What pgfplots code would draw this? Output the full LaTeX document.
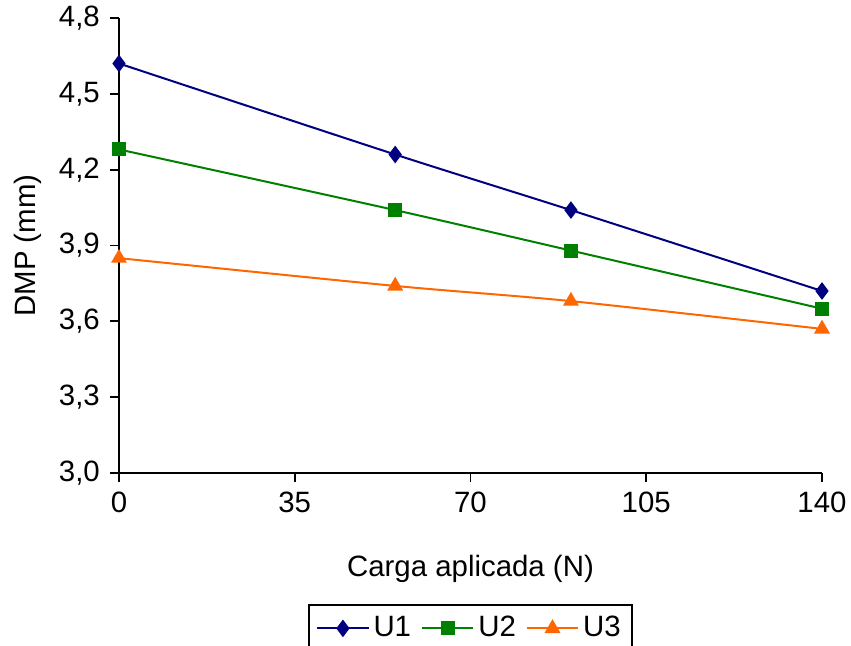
\documentclass[border=0pt]{standalone}
\usepackage{pgfplots}
\pgfplotsset{compat=1.18}
\usepackage{fontspec}
\setmainfont{Liberation Sans}

\definecolor{cU1}{RGB}{0,0,128}
\definecolor{cU2}{RGB}{0,128,0}
\definecolor{cU3}{RGB}{255,102,0}

\pgfplotstableread{
x   y
0   4.62
55  4.26
90  4.04
140 3.72
}\dataUone
\pgfplotstableread{
x   y
0   4.28
55  4.04
90  3.88
140 3.65
}\dataUtwo
\pgfplotstableread{
x   y
0   3.85
55  3.74
90  3.68
140 3.57
}\dataUthree

\begin{document}
\fontsize{14.7}{17}\selectfont
\begin{tikzpicture}
\begin{axis}[
  scale only axis,
  width=351.5pt, height=227.5pt,
  xmin=0, xmax=140, ymin=3.0, ymax=4.8,
  xtick={0,35,70,105,140},
  ytick={3.0,3.3,3.6,3.9,4.2,4.5,4.8},
  axis x line*=bottom, axis y line*=left,
  axis line style={black, line width=0.9pt, -},
  tick style={black, line width=0.9pt},
  tick align=outside,
  major tick length=4.5pt,
  clip=false,
  font=\fontsize{14.7}{17}\selectfont,
  /pgf/number format/assume math mode=true,
  yticklabel style={/pgf/number format/.cd, use comma, fixed, fixed zerofill, precision=1},
  xticklabel style={/pgf/number format/.cd, fixed, precision=0},
  xlabel={Carga aplicada (N)},
  ylabel={DMP (mm)},
  xlabel style={yshift=-11pt},
  ylabel style={yshift=-1.5pt},
  every axis plot/.append style={line width=1pt, smooth, tension=0.45},
  legend columns=-1,
  legend style={at={(0.5,-0.288)}, anchor=north, draw=black, line width=0.9pt,
    font=\fontsize{14.7}{17}\selectfont, inner sep=3.5pt,
    /tikz/every even column/.append style={column sep=3pt}},
  legend image code/.code={\draw[mark repeat=2,mark phase=2]
    plot coordinates {(0cm,0cm)(0.45cm,0cm)(0.9cm,0cm)};},
]
\addplot[color=cU1, mark=diamond*, mark size=3.6pt, mark options={solid, fill=cU1}] table[x=x,y=y] {\dataUone};
\addlegendentry{U1}
\addplot[color=cU2, mark=square*, mark size=3pt, mark options={solid, fill=cU2}] table[x=x,y=y] {\dataUtwo};
\addlegendentry{U2}
\addplot[color=cU3, mark=triangle*, mark size=3.6pt, mark options={solid, fill=cU3}] table[x=x,y=y] {\dataUthree};
\addlegendentry{U3}
\coordinate (bl) at (rel axis cs:0,0);
\coordinate (tr) at (rel axis cs:1,1);
\end{axis}
\pgfresetboundingbox
\path[use as bounding box] ([xshift=-59.5pt,yshift=-86.5pt]bl) rectangle ([xshift=14.5pt,yshift=9pt]tr);
\end{tikzpicture}
\end{document}
